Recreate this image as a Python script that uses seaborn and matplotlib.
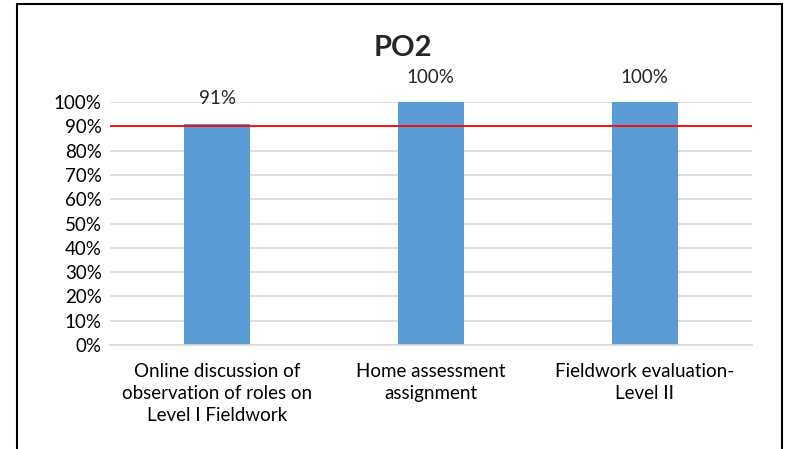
import pandas as pd
import seaborn as sns
import matplotlib.pyplot as plt
from matplotlib.lines import Line2D
from matplotlib.ticker import PercentFormatter

# data
categories = ["Online discussion of\nobservation of roles on\nLevel I Fieldwork",
              "Home assessment\nassignment",
              "Fieldwork evaluation-\nLevel II"]
scores = [0.91, 1.00, 1.00]
value_labels = ["91%", "100%", "100%"]
target = 0.90
title = "PO2"

df = pd.DataFrame({"item": categories, "score": scores})

sns.set_style("white")
plt.rcParams['font.family'] = ['Lato', 'DejaVu Sans']

fig = plt.figure(figsize=(7.92, 4.49), dpi=100)
ax = fig.add_axes([0.139, 0.2316, 0.810, 0.5412])

sns.barplot(data=df, x="item", y="score", color="#5B9BD5", saturation=1,
            width=0.31, linewidth=0, ax=ax)

ax.set_ylim(0, 1)
ax.set_yticks([i / 10 for i in range(11)])
ax.yaxis.set_major_formatter(PercentFormatter(1.0, decimals=0))
ax.grid(axis="y", color="#D9D9D9", linewidth=1.2)
ax.set_axisbelow(True)
for s in ["top", "right", "left"]:
    ax.spines[s].set_visible(False)
ax.spines["bottom"].set_color("#D9D9D9")
ax.spines["bottom"].set_linewidth(1.2)
ax.tick_params(axis="both", length=0, labelsize=13.5, colors="#000000")
ax.tick_params(axis="y", pad=6)
ax.tick_params(axis="x", pad=13)
for t in ax.get_xticklabels():
    t.set_linespacing(1.35)
ax.set_xlabel("")
ax.set_ylabel("")
ax.set_xlim(-0.5, 2.5)

# target line
ax.axhline(target, color="#FF0000", linewidth=1.3, zorder=3)

# data labels
for i, (v, lab) in enumerate(zip(scores, value_labels)):
    ax.annotate(lab, (i, v), xytext=(0, 18), textcoords="offset points",
                ha="center", va="center", fontsize=13.5, annotation_clip=False)

fig.text(0.509, 0.893, title, ha="center", va="center", fontsize=21,
         fontweight="bold")

# outer frame (bottom edge cut off in the reference)
frame_kw = dict(color="black", linewidth=1.5, transform=fig.transFigure)
fig.add_artist(Line2D([0.021, 0.021], [0, 0.991], **frame_kw))
fig.add_artist(Line2D([0.021, 0.988], [0.991, 0.991], **frame_kw))
fig.add_artist(Line2D([0.988, 0.988], [0, 0.991], **frame_kw))

fig.savefig("out.png", dpi=100)
